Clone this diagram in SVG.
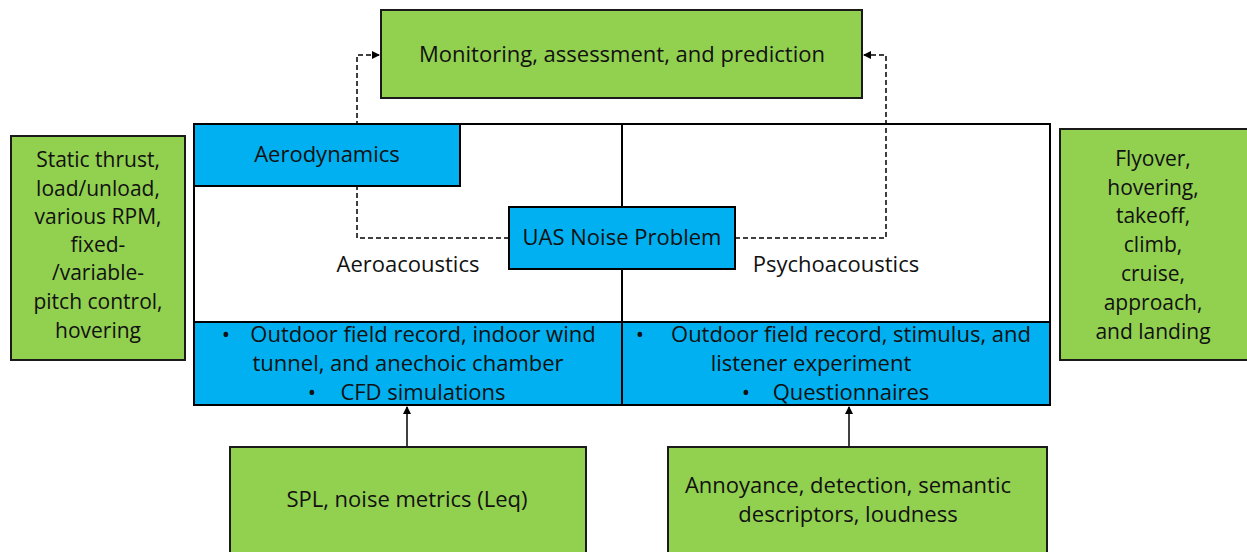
<svg xmlns="http://www.w3.org/2000/svg" width="1247" height="552" viewBox="0 0 1247 552">
<defs>
<style>
.g{fill:#92D050;stroke:#1a1a1a;stroke-width:2}
.b{fill:#00B0F0;stroke:#000;stroke-width:2}
.w{fill:#fff;stroke:#000;stroke-width:2}
text{font-family:"Open Sans","Liberation Sans",sans-serif;font-size:22px;fill:#111;text-anchor:middle}
.sm{font-size:21px}
.d{fill:none;stroke:#000;stroke-width:1.5;stroke-dasharray:5,3}
.s{fill:none;stroke:#000;stroke-width:1.5}
</style>
<marker id="ah" markerWidth="8" markerHeight="8" refX="7" refY="4" orient="auto" markerUnits="userSpaceOnUse">
<path d="M0,0 L8,4 L0,8 Z" fill="#000"/>
</marker>
</defs>
<rect width="1247" height="552" fill="#fff"/>
<g id="main-frame">
<rect class="w" x="194" y="124" width="856" height="281"/>
<line x1="622" y1="124" x2="622" y2="405" stroke="#000" stroke-width="2"/>
<text x="408" y="272">Aeroacoustics</text>
<text x="836" y="272">Psychoacoustics</text>
</g>
<g id="connectors">
<path class="d" d="M509,238 H357 V55 H379" marker-end="url(#ah)"/>
<path class="d" d="M735,238 H886 V55 H864" marker-end="url(#ah)"/>
<path class="s" d="M407,447 V407" marker-end="url(#ah)"/>
<path class="s" d="M849,447 V407" marker-end="url(#ah)"/>
</g>
<g id="monitoring">
<rect class="g" x="381" y="10" width="481" height="88"/>
<text x="622" y="62">Monitoring, assessment, and prediction</text>
</g>
<g id="aerodynamics">
<rect class="b" x="194" y="124" width="266" height="62"/>
<text x="327" y="162">Aerodynamics</text>
</g>
<g id="uas">
<rect class="b" x="509" y="207" width="226" height="62"/>
<text x="622" y="245">UAS Noise Problem</text>
</g>
<g id="aero-methods">
<rect class="b" x="194" y="322" width="428" height="83"/>
<text x="226" y="342">•</text>
<text x="423" y="342">Outdoor field record, indoor wind</text>
<text x="408" y="371">tunnel, and anechoic chamber</text>
<text x="312" y="400">•</text>
<text x="423" y="400">CFD simulations</text>
</g>
<g id="psycho-methods">
<rect class="b" x="622" y="322" width="428" height="83"/>
<text x="640" y="342">•</text>
<text x="851" y="342">Outdoor field record, stimulus, and</text>
<text x="811" y="371">listener experiment</text>
<text x="746" y="400">•</text>
<text x="851" y="400">Questionnaires</text>
</g>
<g id="left-conditions">
<rect class="g" x="11" y="136" width="174" height="224"/>
<text class="sm" x="98" y="167">Static thrust,</text>
<text class="sm" x="98" y="196">load/unload,</text>
<text class="sm" x="98" y="224">various RPM,</text>
<text class="sm" x="98" y="252">fixed-</text>
<text class="sm" x="98" y="280">/variable-</text>
<text class="sm" x="98" y="309">pitch control,</text>
<text class="sm" x="98" y="338">hovering</text>
</g>
<g id="right-conditions">
<rect class="g" x="1060" y="129" width="190" height="231"/>
<text class="sm" x="1153" y="166">Flyover,</text>
<text class="sm" x="1153" y="195">hovering,</text>
<text class="sm" x="1153" y="223">takeoff,</text>
<text class="sm" x="1153" y="252">climb,</text>
<text class="sm" x="1153" y="281">cruise,</text>
<text class="sm" x="1153" y="310">approach,</text>
<text class="sm" x="1153" y="339">and landing</text>
</g>
<g id="spl">
<rect class="g" x="230" y="447" width="356" height="110"/>
<text x="407" y="507">SPL, noise metrics (Leq)</text>
</g>
<g id="perception">
<rect class="g" x="668" y="447" width="379" height="110"/>
<text x="848" y="493">Annoyance, detection, semantic</text>
<text x="848" y="522">descriptors, loudness</text>
</g>
</svg>
